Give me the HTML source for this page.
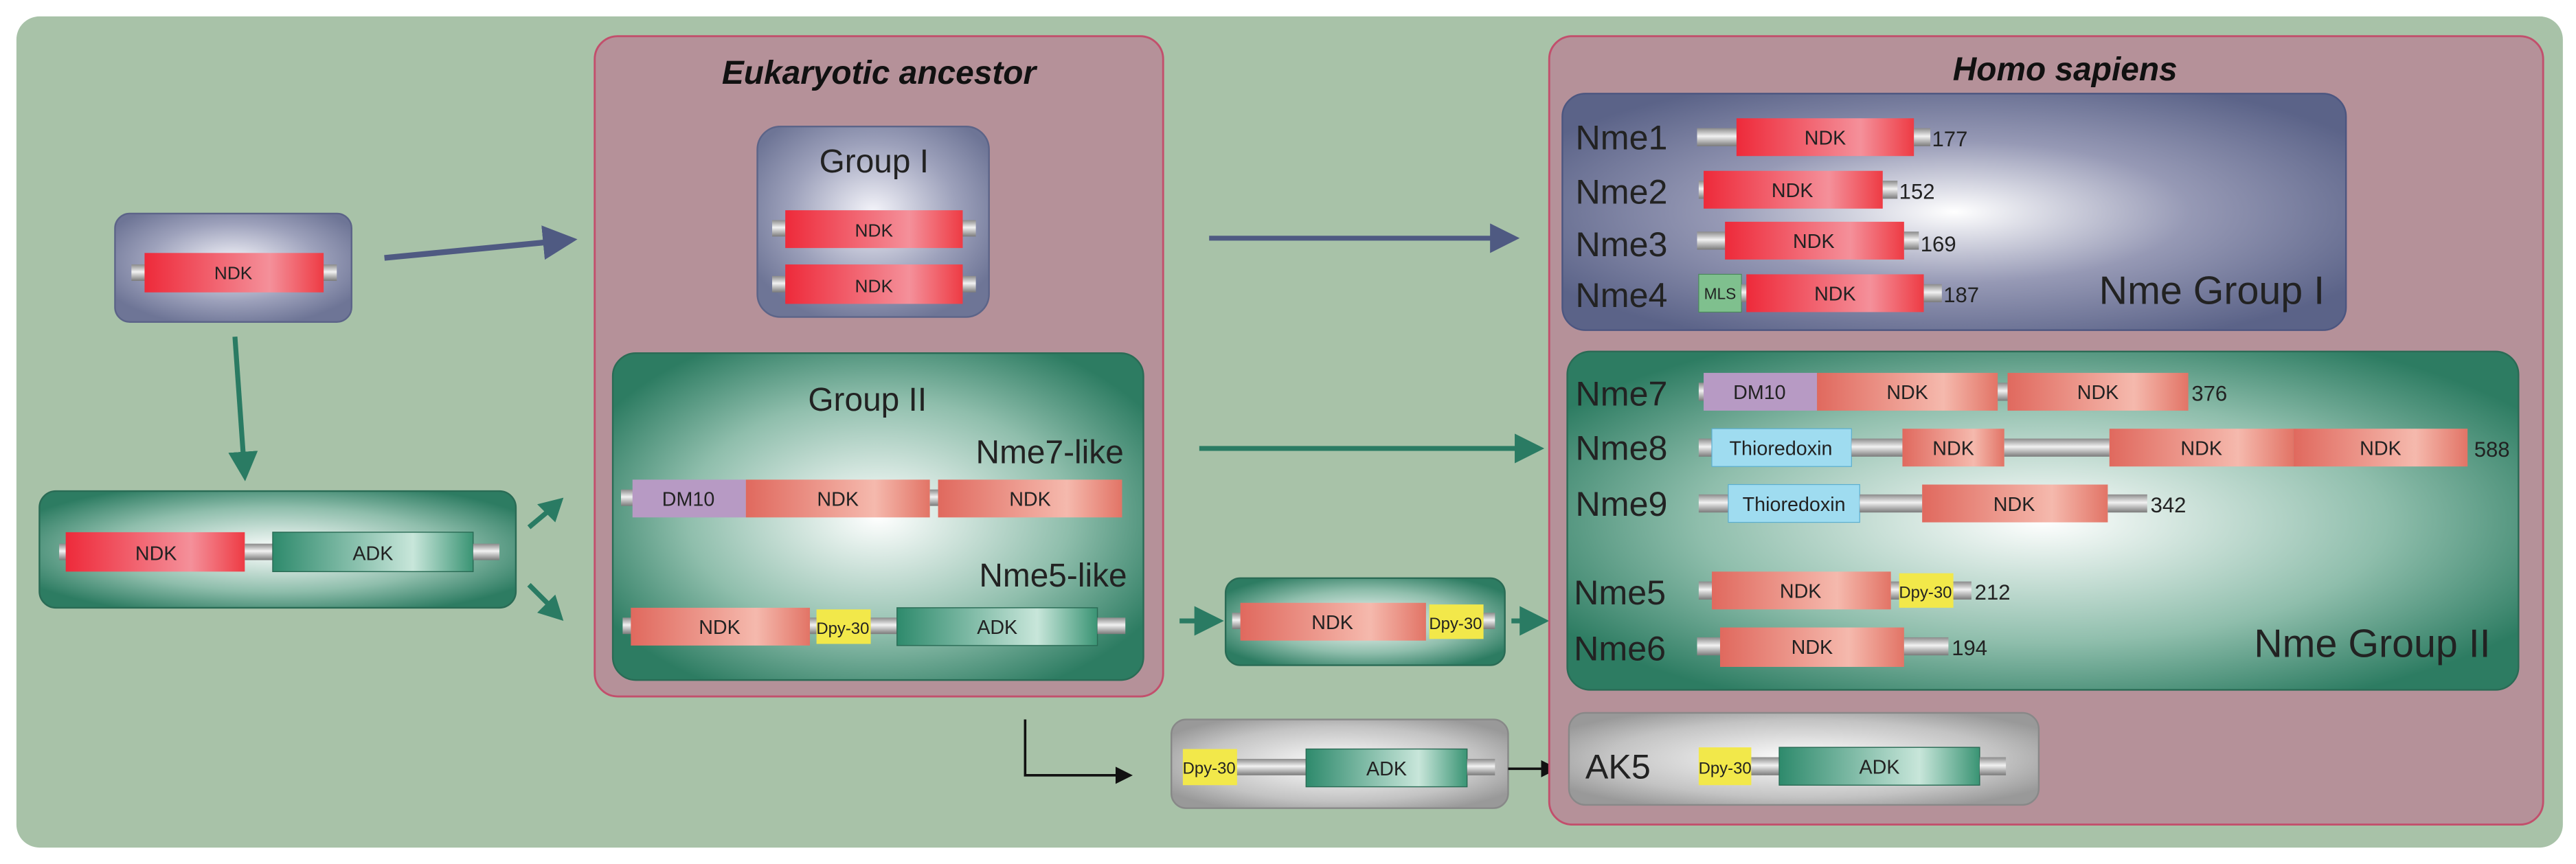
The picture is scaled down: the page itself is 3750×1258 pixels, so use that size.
<!DOCTYPE html>
<html><head><meta charset="utf-8"><style>html,body{margin:0;padding:0;background:#fff}svg{display:block}text{font-family:"Liberation Sans Narrow","Liberation Sans",sans-serif}</style></head>
<body>
<svg width="3750" height="1258" viewBox="0 0 1568 526" xmlns="http://www.w3.org/2000/svg">
<defs>
<radialGradient id="gb" cx="0.5" cy="0.45" r="0.6"><stop offset="0" stop-color="#f4f4fa"/><stop offset="0.6" stop-color="#9da1bb"/><stop offset="1" stop-color="#6e7596"/></radialGradient>
<radialGradient id="gb2" cx="0.5" cy="0.5" r="0.6"><stop offset="0" stop-color="#ffffff"/><stop offset="0.5" stop-color="#9699b5"/><stop offset="1" stop-color="#5b6388"/></radialGradient>
<radialGradient id="gg" cx="0.5" cy="0.5" r="0.6"><stop offset="0" stop-color="#ffffff"/><stop offset="0.6" stop-color="#8fbeac"/><stop offset="1" stop-color="#2d7c62"/></radialGradient>
<radialGradient id="gy" cx="0.5" cy="0.5" r="0.6"><stop offset="0" stop-color="#ffffff"/><stop offset="0.7" stop-color="#c3c3c3"/><stop offset="1" stop-color="#999"/></radialGradient>
<linearGradient id="red" x1="0" x2="1"><stop offset="0" stop-color="#ee2a3a"/><stop offset="0.7" stop-color="#f4909a"/><stop offset="1" stop-color="#ee3b44"/></linearGradient>
<linearGradient id="sal" x1="0" x2="1"><stop offset="0" stop-color="#e0695e"/><stop offset="0.7" stop-color="#f5b9ad"/><stop offset="1" stop-color="#e27466"/></linearGradient>
<linearGradient id="teal" x1="0" x2="1"><stop offset="0" stop-color="#2e8a6c"/><stop offset="0.7" stop-color="#c8e6da"/><stop offset="1" stop-color="#3a9474"/></linearGradient>
<linearGradient id="cap" x1="0" y1="0" x2="0" y2="1"><stop offset="0" stop-color="#8a8a8a"/><stop offset="0.45" stop-color="#f2f2f2"/><stop offset="1" stop-color="#7a7a7a"/></linearGradient>
<marker id="ab" markerWidth="6" markerHeight="6" refX="5" refY="3" orient="auto" markerUnits="strokeWidth"><path d="M0,0 L6,3 L0,6 z" fill="#4f5a82"/></marker>
<marker id="ag" markerWidth="6" markerHeight="6" refX="5" refY="3" orient="auto" markerUnits="strokeWidth"><path d="M0,0 L6,3 L0,6 z" fill="#2a7b63"/></marker>
<marker id="ak" markerWidth="7" markerHeight="7" refX="6" refY="3.5" orient="auto" markerUnits="strokeWidth"><path d="M0,0 L7,3.5 L0,7 z" fill="#111"/></marker>
</defs>
<rect x="10" y="10" width="1550" height="506" rx="14" fill="#a8c2a8"/>

<rect x="70" y="130" width="144" height="66" rx="9" fill="url(#gb)" stroke="#5c6488" stroke-width="1"/>
<g font-size="11" text-anchor="middle" fill="#222">
<rect x="80" y="161" width="9" height="10" fill="url(#cap)"/><rect x="196" y="161" width="9" height="10" fill="url(#cap)"/>
<rect x="88" y="154" width="109" height="24" fill="url(#red)"/><text x="142" y="170">NDK</text>
</g>
<line x1="234" y1="157" x2="348" y2="146" stroke="#4f5a82" stroke-width="3.5" marker-end="url(#ab)"/>
<line x1="143" y1="205" x2="149" y2="290" stroke="#2a7b63" stroke-width="3" marker-end="url(#ag)"/>

<rect x="24" y="299" width="290" height="71" rx="10" fill="url(#gg)" stroke="#2a6b55" stroke-width="1"/>
<g font-size="12" text-anchor="middle" fill="#222">
<rect x="36" y="331" width="6" height="10" fill="url(#cap)"/>
<rect x="40" y="324" width="109" height="24" fill="url(#red)"/><text x="95" y="341">NDK</text>
<rect x="149" y="331" width="17" height="10" fill="url(#cap)"/>
<rect x="166" y="324" width="122" height="24" fill="url(#teal)" stroke="#2a6b55" stroke-width="0.6"/><text x="227" y="341">ADK</text>
<rect x="288" y="331" width="16" height="10" fill="url(#cap)"/>
</g>
<line x1="322" y1="321" x2="334" y2="311" stroke="#2a7b63" stroke-width="3"/>
<polygon points="343,303 327,307 338,318" fill="#2a7b63"/>
<line x1="322" y1="356" x2="334" y2="368" stroke="#2a7b63" stroke-width="3"/>
<polygon points="343,378 338,362 327,373" fill="#2a7b63"/>

<rect x="362" y="22" width="346" height="402" rx="14" fill="#b59199" stroke="#c24f6c" stroke-width="1.2"/>
<text x="535" y="51" font-size="20" font-weight="bold" font-style="italic" text-anchor="middle" fill="#111">Eukaryotic ancestor</text>
<rect x="461" y="77" width="141" height="116" rx="14" fill="url(#gb)" stroke="#5c6488" stroke-width="1"/>
<text x="532" y="105" font-size="20" text-anchor="middle" fill="#222">Group I</text>
<g font-size="11" text-anchor="middle" fill="#222">
<rect x="470" y="134" width="8" height="10" fill="url(#cap)"/><rect x="586" y="134" width="8" height="10" fill="url(#cap)"/>
<rect x="478" y="128" width="108" height="23" fill="url(#red)"/><text x="532" y="144">NDK</text>
<rect x="470" y="168" width="8" height="10" fill="url(#cap)"/><rect x="586" y="168" width="8" height="10" fill="url(#cap)"/>
<rect x="478" y="161" width="108" height="24" fill="url(#red)"/><text x="532" y="178">NDK</text>
</g>
<rect x="373" y="215" width="323" height="199" rx="14" fill="url(#gg)" stroke="#2a6b55" stroke-width="1"/>
<text x="528" y="250" font-size="20" text-anchor="middle" fill="#222">Group II</text>
<text x="684" y="282" font-size="20" text-anchor="end" fill="#222">Nme7-like</text>
<text x="686" y="357" font-size="20" text-anchor="end" fill="#222">Nme5-like</text>
<g font-size="12" text-anchor="middle" fill="#222">
<rect x="378" y="298" width="8" height="10" fill="url(#cap)"/>
<rect x="385" y="292" width="69" height="23" fill="#b79ac4"/><text x="419" y="308">DM10</text>
<rect x="454" y="292" width="112" height="23" fill="url(#sal)"/><text x="510" y="308">NDK</text>
<rect x="566" y="298" width="6" height="10" fill="url(#cap)"/>
<rect x="571" y="292" width="112" height="23" fill="url(#sal)"/><text x="627" y="308">NDK</text>
<rect x="379" y="376" width="6" height="10" fill="url(#cap)"/>
<rect x="384" y="370" width="109" height="23" fill="url(#sal)"/><text x="438" y="386">NDK</text>
<rect x="493" y="376" width="5" height="10" fill="url(#cap)"/>
<rect x="497" y="371" width="33" height="21" fill="#f2e84a"/><text x="513" y="386" font-size="10">Dpy-30</text>
<rect x="530" y="376" width="16" height="10" fill="url(#cap)"/>
<rect x="546" y="370" width="122" height="23" fill="url(#teal)" stroke="#2a6b55" stroke-width="0.6"/><text x="607" y="386">ADK</text>
<rect x="668" y="376" width="17" height="10" fill="url(#cap)"/>
</g>

<line x1="736" y1="145" x2="922" y2="145" stroke="#4f5a82" stroke-width="3" marker-end="url(#ab)"/>
<line x1="730" y1="273" x2="937" y2="273" stroke="#2a7b63" stroke-width="3" marker-end="url(#ag)"/>
<line x1="718" y1="378" x2="742" y2="378" stroke="#2a7b63" stroke-width="3" marker-end="url(#ag)"/>
<line x1="920" y1="378" x2="940" y2="378" stroke="#2a7b63" stroke-width="3" marker-end="url(#ag)"/>

<rect x="746" y="352" width="170" height="53" rx="9" fill="url(#gg)" stroke="#2a6b55" stroke-width="1"/>
<g font-size="12" text-anchor="middle" fill="#222">
<rect x="750" y="373" width="6" height="10" fill="url(#cap)"/>
<rect x="755" y="367" width="113" height="23" fill="url(#sal)"/><text x="811" y="383">NDK</text>
<rect x="870" y="368" width="33" height="21" fill="#f2e84a"/><text x="886" y="383" font-size="10">Dpy-30</text>
<rect x="903" y="373" width="7" height="10" fill="url(#cap)"/>
</g>

<polyline points="624,438 624,472 688,472" fill="none" stroke="#111" stroke-width="1.5" marker-end="url(#ak)"/>
<rect x="713" y="438" width="205" height="54" rx="9" fill="url(#gy)" stroke="#888" stroke-width="1"/>
<g font-size="12" text-anchor="middle" fill="#222">
<rect x="720" y="456" width="33" height="22" fill="#f2e84a"/><text x="736" y="471" font-size="10">Dpy-30</text>
<rect x="753" y="462" width="42" height="10" fill="url(#cap)"/>
<rect x="795" y="456" width="98" height="23" fill="url(#teal)" stroke="#2a6b55" stroke-width="0.6"/><text x="844" y="472">ADK</text>
<rect x="893" y="462" width="17" height="10" fill="url(#cap)"/>
</g>
<line x1="918" y1="468" x2="947" y2="468" stroke="#111" stroke-width="1.5" marker-end="url(#ak)"/>

<rect x="943" y="22" width="605" height="480" rx="14" fill="#b59199" stroke="#c24f6c" stroke-width="1.2"/>
<text x="1257" y="49" font-size="20" font-weight="bold" font-style="italic" text-anchor="middle" fill="#111">Homo sapiens</text>

<rect x="951" y="57" width="477" height="144" rx="14" fill="url(#gb2)" stroke="#4c5680" stroke-width="1"/>
<g font-size="21" fill="#222">
<text x="959" y="91">Nme1</text><text x="959" y="124">Nme2</text><text x="959" y="156">Nme3</text><text x="959" y="187">Nme4</text>
<text x="1415" y="185" text-anchor="end" font-size="24">Nme Group I</text>
</g>
<g font-size="12" text-anchor="middle" fill="#222">
<rect x="1033" y="78" width="25" height="11" fill="url(#cap)"/><rect x="1057" y="72" width="108" height="23" fill="url(#red)"/><text x="1111" y="88">NDK</text><rect x="1165" y="78" width="10" height="11" fill="url(#cap)"/>
<rect x="1034" y="110" width="4" height="11" fill="url(#cap)"/><rect x="1037" y="104" width="109" height="23" fill="url(#red)"/><text x="1091" y="120">NDK</text><rect x="1146" y="110" width="9" height="11" fill="url(#cap)"/>
<rect x="1033" y="141" width="18" height="11" fill="url(#cap)"/><rect x="1050" y="135" width="109" height="23" fill="url(#red)"/><text x="1104" y="151">NDK</text><rect x="1159" y="141" width="9" height="11" fill="url(#cap)"/>
<rect x="1034" y="167" width="26" height="23" fill="#7fc08e" stroke="#4a8a5a" stroke-width="0.5"/><text x="1047" y="182" font-size="9.5">MLS</text>
<rect x="1060" y="173" width="4" height="11" fill="url(#cap)"/><rect x="1063" y="167" width="108" height="23" fill="url(#red)"/><text x="1117" y="183">NDK</text><rect x="1171" y="173" width="11" height="11" fill="url(#cap)"/>
</g>
<g font-size="13" fill="#222">
<text x="1176" y="89">177</text><text x="1156" y="121">152</text><text x="1169" y="153">169</text><text x="1183" y="184">187</text>
</g>

<rect x="954" y="214" width="579" height="206" rx="14" fill="url(#gg)" stroke="#2a6b55" stroke-width="1"/>
<g font-size="21" fill="#222">
<text x="959" y="247">Nme7</text><text x="959" y="280">Nme8</text><text x="959" y="314">Nme9</text><text x="958" y="368">Nme5</text><text x="958" y="402">Nme6</text>
<text x="1516" y="400" text-anchor="end" font-size="24">Nme Group II</text>
</g>
<g font-size="12" text-anchor="middle" fill="#222">
<rect x="1034" y="233" width="4" height="11" fill="url(#cap)"/>
<rect x="1037" y="227" width="69" height="23" fill="#b79ac4"/><text x="1071" y="243">DM10</text>
<rect x="1106" y="227" width="110" height="23" fill="url(#sal)"/><text x="1161" y="243">NDK</text>
<rect x="1216" y="233" width="7" height="11" fill="url(#cap)"/>
<rect x="1222" y="227" width="110" height="23" fill="url(#sal)"/><text x="1277" y="243">NDK</text>

<rect x="1034" y="267" width="9" height="11" fill="url(#cap)"/>
<rect x="1042" y="261" width="85" height="23" fill="#9fdcf0" stroke="#5aaed0" stroke-width="0.5"/><text x="1084" y="277">Thioredoxin</text>
<rect x="1127" y="267" width="31" height="11" fill="url(#cap)"/>
<rect x="1158" y="261" width="62" height="23" fill="url(#sal)"/><text x="1189" y="277">NDK</text>
<rect x="1220" y="267" width="64" height="11" fill="url(#cap)"/>
<rect x="1284" y="261" width="112" height="23" fill="url(#sal)"/><text x="1340" y="277">NDK</text>
<rect x="1396" y="261" width="106" height="23" fill="url(#sal)"/><text x="1449" y="277">NDK</text>

<rect x="1034" y="301" width="19" height="11" fill="url(#cap)"/>
<rect x="1052" y="295" width="80" height="23" fill="#9fdcf0" stroke="#5aaed0" stroke-width="0.5"/><text x="1092" y="311">Thioredoxin</text>
<rect x="1132" y="301" width="38" height="11" fill="url(#cap)"/>
<rect x="1170" y="295" width="113" height="23" fill="url(#sal)"/><text x="1226" y="311">NDK</text>
<rect x="1283" y="301" width="24" height="11" fill="url(#cap)"/>

<rect x="1034" y="354" width="9" height="11" fill="url(#cap)"/>
<rect x="1042" y="348" width="109" height="23" fill="url(#sal)"/><text x="1096" y="364">NDK</text>
<rect x="1151" y="354" width="6" height="11" fill="url(#cap)"/>
<rect x="1156" y="349" width="33" height="21" fill="#f2e84a"/><text x="1172" y="364" font-size="10">Dpy-30</text>
<rect x="1189" y="354" width="11" height="11" fill="url(#cap)"/>

<rect x="1033" y="388" width="15" height="11" fill="url(#cap)"/>
<rect x="1047" y="382" width="112" height="24" fill="url(#sal)"/><text x="1103" y="398">NDK</text>
<rect x="1159" y="388" width="27" height="11" fill="url(#cap)"/>
</g>
<g font-size="13" fill="#222">
<text x="1334" y="244">376</text><text x="1506" y="278">588</text><text x="1309" y="312">342</text><text x="1202" y="365">212</text><text x="1188" y="399">194</text>
</g>

<rect x="955" y="434" width="286" height="56" rx="10" fill="url(#gy)" stroke="#888" stroke-width="1"/>
<text x="965" y="474" font-size="21" fill="#222">AK5</text>
<g font-size="12" text-anchor="middle" fill="#222">
<rect x="1034" y="455" width="32" height="23" fill="#f2e84a"/><text x="1050" y="471" font-size="10">Dpy-30</text>
<rect x="1066" y="461" width="17" height="11" fill="url(#cap)"/>
<rect x="1083" y="455" width="122" height="23" fill="url(#teal)" stroke="#2a6b55" stroke-width="0.6"/><text x="1144" y="471">ADK</text>
<rect x="1205" y="461" width="16" height="11" fill="url(#cap)"/>
</g>
</svg>
</body></html>
